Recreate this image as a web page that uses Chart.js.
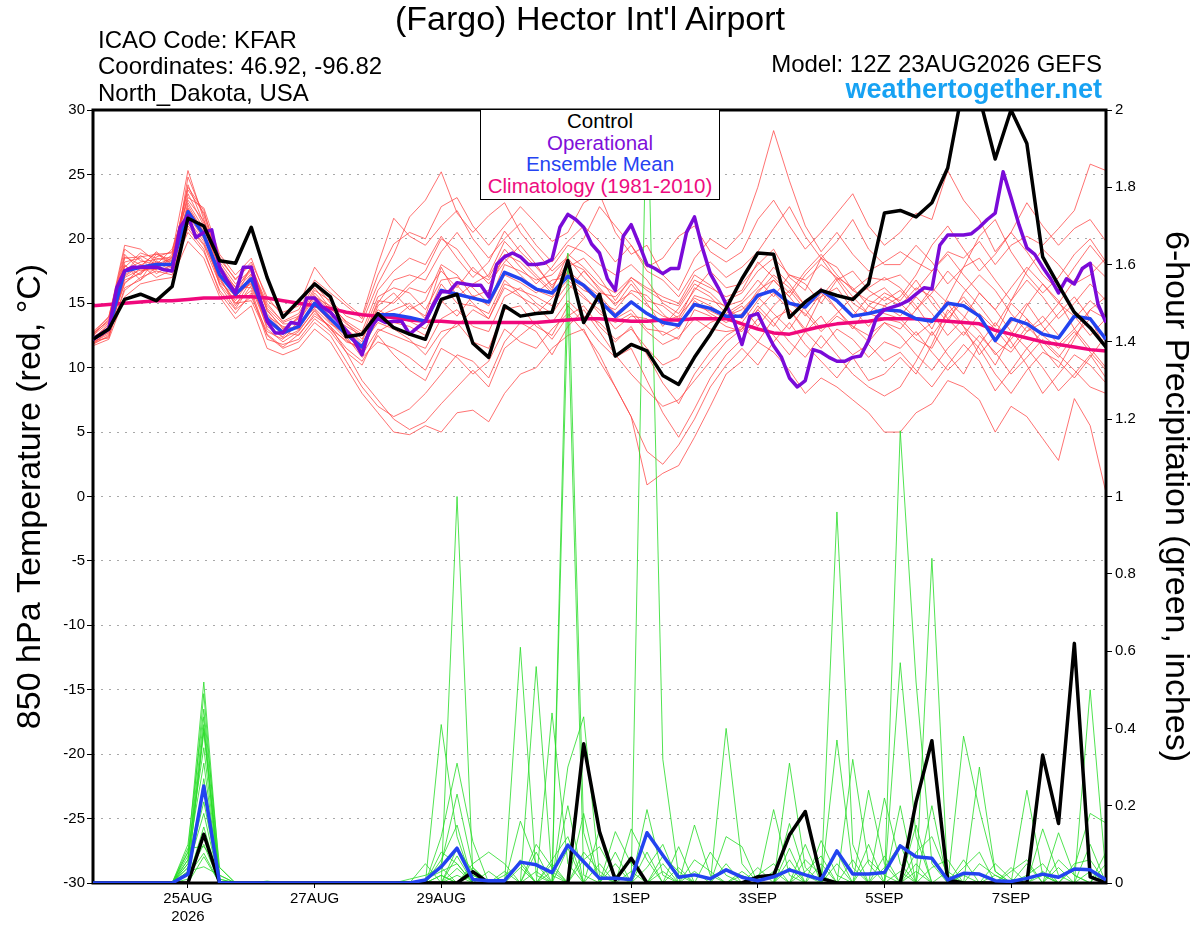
<!DOCTYPE html>
<html><head><meta charset="utf-8">
<script src="https://cdn.jsdelivr.net/npm/chart.js@4.4.1/dist/chart.umd.min.js"></script>
<style>
html,body{margin:0;padding:0;background:#fff;}
#wrap{position:relative;width:1200px;height:927px;overflow:hidden;font-family:'Liberation Sans',Arial,Helvetica,sans-serif;}
#c{position:absolute;left:0;top:0;}
.t{position:absolute;white-space:nowrap;color:#000;}
#legend{position:absolute;left:480px;top:109px;width:240px;height:91px;box-sizing:border-box;border:1.5px solid #000;background:#fff;text-align:center;font-size:20.5px;line-height:21.6px;}
</style></head><body>
<div id="wrap">
<canvas id="c" width="1200" height="927"></canvas>
<div class="t" style="left:0;width:1180px;text-align:center;top:0px;font-size:34px;line-height:36px;">(Fargo) Hector Int'l Airport</div>
<div class="t" style="left:98px;top:27px;font-size:24px;line-height:26px;">ICAO Code: KFAR</div>
<div class="t" style="left:98px;top:53px;font-size:24px;line-height:26px;">Coordinates: 46.92, -96.82</div>
<div class="t" style="left:98px;top:80px;font-size:24px;line-height:26px;">North_Dakota, USA</div>
<div class="t" style="right:98px;top:51px;font-size:24px;line-height:26px;">Model: 12Z 23AUG2026 GEFS</div>
<div class="t" style="right:98px;top:74px;font-size:27px;line-height:30px;font-weight:bold;color:#17a2f3;">weathertogether.net</div>
<div id="legend">
<div style="color:#000">Control</div>
<div style="color:#7f0fd9">Operational</div>
<div style="color:#2543f2">Ensemble Mean</div>
<div style="color:#ee0c80">Climatology (1981-2010)</div>
</div>
</div>
<script>
// ---- time axis (hours after 12Z 23AUG2026) ----
const hours6 = [0,6,12,18,24,30,36,42,48,54,60,66,72,78,84,90,96,102,108,114,120,126,132,138,144,150,156,162,168,174,180,186,192,198,204,210,216,222,228,234,240,246,252,258,264,270,276,282,288,294,300,306,312,318,324,330,336,342,348,354,360,366,372,378,384];
const hours3 = [0,3,6,9,12,15,18,21,24,27,30,33,36,39,42,45,
48,51,54,57,60,63,66,69,72,75,78,81,84,87,90,93,
96,99,102,105,108,111,114,117,120,123,126,129,132,135,138,141,
144,147,150,153,156,159,162,165,168,171,174,177,180,183,186,189,
192,195,198,201,204,207,210,213,216,219,222,225,228,231,234,237,
240,243,246,249,252,255,258,261,264,267,270,273,276,279,282,285,
288,291,294,297,300,303,306,309,312,315,318,321,324,327,330,333,
336,339,342,345,348,351,354,357,360,363,366,369,372,375,378,381,
384];
const tickHours = [36,84,132,204,252,300,348];
const tickLabels = [['25AUG','2026'],'27AUG','29AUG','1SEP','3SEP','5SEP','7SEP'];

// ---- main series ----
const controlTemp = [12.2,13.0,15.3,15.7,15.2, 16.3,21.6,21.0,18.3,18.1, 20.9,17.0,13.9,15.2,16.5, 15.5,12.4,12.6,14.2,13.1,
12.6,12.2,15.3,15.7,11.9, 10.8,14.8,14.0,14.2,14.3, 18.3,13.5,15.7,10.9,11.8, 11.3,9.4,8.7,10.8,12.6,
14.6,16.9,18.9,18.8,13.9, 15.1,16.0,15.6,15.3,16.5, 22.0,22.2,21.7,22.8,25.5, 32.0,31.0,26.2,30.0,27.4, 18.6,16.4,14.3,13.1,11.6];
const operationalTemp = [12.2,12.6,13.0,16.2,17.5,17.8,17.8,17.8,17.8,17.6,17.5,20.9,21.8,20.1,20.5,20.7,
17.8,16.7,15.8,17.8,17.8,15.5,13.6,12.7,12.7,13.5,13.4,15.4,15.4,14.7,14.3,13.6,
12.9,12.1,11.0,13.1,13.8,13.5,13.6,13.6,12.6,13.1,13.6,14.9,15.9,15.9,16.6,16.5,
16.4,16.4,15.5,18.0,18.6,18.9,18.6,18.0,18.0,18.1,18.4,20.9,21.9,21.5,20.9,19.6,
18.9,16.9,16.0,20.2,21.1,19.6,18.0,17.7,17.3,17.7,17.7,20.5,21.7,19.3,17.3,16.2,
14.9,13.6,11.8,14.0,14.2,12.9,11.7,10.8,9.2,8.5,9.0,11.4,11.2,10.8,10.5,10.5,
10.8,10.9,12.1,13.9,14.5,14.7,14.9,15.2,15.7,16.2,16.1,19.5,20.3,20.3,20.3,20.4,
20.9,21.5,22.0,25.2,23.2,21.1,19.3,18.8,17.8,16.9,15.8,16.9,16.5,17.7,18.1,14.9,
13.5];
const meanTemp = [12.2,13.0,17.5,17.8,18.0, 18.0,22.1,20.3,17.2,15.7, 16.9,13.8,12.7,13.2,15.0, 13.8,12.6,11.6,14.1,14.1,
13.9,13.6,16.0,15.7,15.4, 15.1,17.4,16.9,16.1,15.8, 17.1,16.4,15.2,14.0,15.1, 14.2,13.5,13.3,14.9,14.6,
14.0,14.0,15.6,16.0,15.0, 14.7,16.0,15.2,14.0,14.2, 14.5,14.4,13.8,13.6,15.0, 14.8,14.0,12.1,13.8,13.4, 12.6,12.3,14.0,13.8,12.2];
const climoTemp = [14.8,14.9,15.0,15.1,15.2, 15.2,15.3,15.4,15.4,15.5, 15.5,15.4,15.2,15.0,14.8, 14.6,14.3,14.1,14.0,13.9,
13.7,13.6,13.6,13.5,13.5, 13.5,13.5,13.5,13.5,13.6, 13.7,13.8,13.8,13.7,13.6, 13.6,13.7,13.7,13.8,13.8,
13.8,13.4,13.0,12.7,12.6, 12.9,13.2,13.4,13.5,13.6, 13.8,13.8,13.8,13.7,13.6, 13.5,13.4,12.9,12.6,12.3, 12.0,11.8,11.6,11.4,11.3];
const controlPrecip = [0,0,0,0,0, 0,0,0.126,0,0, 0,0,0,0,0, 0,0,0,0,0,
0,0,0,0,0.029, 0,0,0,0,0, 0,0.36,0.133,0.008,0.064, 0,0,0,0,0,
0,0,0.016,0.02,0.124, 0.185,0.012,0,0,0, 0,0,0.21,0.368,0.008, 0,0,0,0,0, 0.331,0.154,0.62,0.016,0];
const meanPrecip = [0,0,0,0,0, 0,0.023,0.251,0,0, 0,0,0,0,0, 0,0,0,0,0,
0,0.008,0.042,0.09,0.009, 0.006,0.006,0.054,0.047,0.027, 0.098,0.055,0.012,0.012,0.009, 0.13,0.072,0.015,0.021,0.011,
0.034,0.015,0.006,0.016,0.034, 0.021,0.009,0.083,0.023,0.023, 0.027,0.096,0.068,0.064,0.008, 0.025,0.023,0.006,0.004,0.012, 0.023,0.015,0.036,0.034,0.008];

// ---- ensemble members: 850 hPa temperature (°C) ----
const memberTemp01 = [12.0,13.2,18.5,18.6,18.8,18.9,25.3,21.5,18.0,16.2,17.5, 14.5,13.0,13.8,16.0,15.2,14.0,13.5,16.5,18.8,21.7, 23.0,25.2,22.0,20.5,21.8,22.8,20.5,19.0,17.5,18.6, 20.0,22.5,21.0,19.5,17.8,18.5,20.2,21.0,19.0,18.2, 19.0,21.5,23.0,21.0,19.2,20.5,22.0,23.5,21.0,19.5, 20.5,22.0,21.5,25.3,23.0,21.5,19.0,20.5,22.8,21.0,19.5,20.8,21.5,19.8];
const memberTemp02 = [12.5,13.8,19.2,18.3,18.0,18.5,23.8,22.0,18.6,16.8,18.2, 15.5,14.0,14.5,16.8,15.8,14.8,13.8,17.2,19.6,20.5, 20.0,22.5,23.2,21.0,19.5,21.0,22.5,21.2,19.8,20.5, 22.8,23.5,20.5,18.8,19.5,17.2,16.0,18.5,20.0,19.2, 20.5,24.0,28.4,24.5,21.0,19.0,20.5,18.8,17.5,18.2, 19.0,18.2,17.5,19.0,18.5,19.8,18.0,19.5,20.2,19.5,20.8,22.2,25.8,25.3];
const memberTemp03 = [11.8,12.5,16.0,17.0,17.5,17.2,21.0,19.5,16.5,15.0,16.0, 12.5,11.5,12.0,13.5,12.5,10.5,8.5,7.0,6.2,6.8, 8.0,9.5,11.0,10.5,9.2,12.0,13.5,12.8,11.0,13.2, 14.5,12.8,11.0,9.5,8.2,7.0,7.5,9.0,10.5,12.0, 13.0,14.8,13.5,12.0,10.8,12.5,11.0,9.5,8.5,7.8, 8.5,10.5,12.8,11.0,9.5,11.8,13.5,12.0,10.2,8.0,9.5,11.0,10.2,8.8];
const memberTemp04 = [12.3,13.0,17.8,18.9,18.5,18.2,22.8,20.8,17.8,15.5,17.2, 14.0,13.2,13.0,15.2,14.0,13.2,12.5,15.5,16.2,15.8, 14.5,16.8,17.0,16.2,15.0,18.0,17.5,16.8,17.2,18.5, 17.0,15.8,15.5,16.8,15.2,14.8,13.8,16.2,15.5,14.2, 15.0,16.2,17.8,16.5,14.8,15.5,17.0,16.2,14.8,15.8, 15.2,16.8,15.0,13.5,15.8,17.2,16.0,14.2,12.8,13.5,15.0,14.0,12.5,13.8];
const memberTemp05 = [12.6,14.0,18.8,17.5,17.8,18.4,24.2,21.2,17.0,14.8,16.8, 13.0,12.0,12.8,14.5,13.0,11.5,10.5,12.5,11.0,9.8, 9.0,11.5,10.8,9.5,10.5,13.0,12.0,11.5,13.0,14.2, 12.8,11.0,8.5,6.2,3.5,2.5,4.0,6.0,8.5,10.2, 11.5,10.2,12.0,13.5,11.8,10.5,9.2,10.8,9.0,9.5, 10.8,9.5,11.8,14.5,13.2,11.0,12.5,15.0,13.8,11.5,10.0,12.2,14.5,15.5];
const memberTemp06 = [11.9,12.8,16.8,17.3,18.2,17.8,20.5,19.0,16.0,14.5,15.5, 12.8,12.2,13.5,15.8,14.5,12.8,11.0,13.0,12.5,12.0, 11.5,13.8,14.5,13.2,12.8,15.5,16.2,15.0,14.2,16.0, 17.5,16.2,14.8,16.5,15.0,13.2,14.6,16.5,15.8,14.6, 13.8,15.5,14.2,13.0,14.8,16.2,14.5,13.2,12.5,13.5, 13.0,14.5,16.2,15.0,13.2,12.0,10.2,12.5,14.8,16.5,15.2,13.0,11.5,10.0];
const memberTemp07 = [12.2,13.4,17.2,18.0,17.0,17.6,22.3,20.6,17.5,16.0,17.8, 15.0,13.5,14.0,15.5,14.8,13.6,12.8,16.0,17.5,18.5, 18.0,20.2,18.5,17.0,18.2,20.6,19.0,17.8,16.4,17.8, 18.5,17.0,15.2,17.0,16.2,15.5,15.0,17.2,16.4,15.2, 15.8,17.5,18.5,17.2,16.8,18.0,17.0,15.5,16.2,17.0, 16.2,14.8,13.0,15.5,17.8,18.5,16.8,15.2,17.5,19.2,18.0,16.5,17.2,18.5];
const memberTemp08 = [12.7,13.6,18.0,16.8,18.6,19.0,23.2,22.4,18.8,17.2,18.5, 15.2,14.3,14.8,17.8,16.2,15.0,14.0,18.0,21.6,20.2, 19.5,21.0,22.2,20.0,18.5,20.0,21.2,19.5,18.2,19.8, 21.0,19.8,18.2,19.5,17.5,16.8,15.5,17.5,18.2,17.0, 17.8,19.0,20.8,22.5,20.2,18.5,19.8,21.5,19.2,18.0, 18.0,19.5,18.2,16.5,17.8,20.2,21.5,19.0,17.2,15.8,17.0,18.8,20.0,18.2];
const memberTemp09 = [11.7,12.2,15.5,16.5,16.8,17.0,19.8,18.5,15.5,13.8,14.8, 11.5,11.0,11.5,13.0,12.0,10.0,8.0,6.5,5.0,4.8, 5.5,5.0,6.5,6.7,5.8,8.0,9.5,10.0,11.5,12.5, 13.0,10.5,8.5,6.2,0.9,1.8,2.4,4.6,7.0,9.5, 10.5,12.0,11.2,9.8,8.0,9.2,8.5,7.5,6.5,5.0, 5.0,6.5,7.2,9.0,8.5,7.5,5.0,7.0,6.2,4.5,2.8,7.6,5.5,0.3];
const memberTemp10 = [12.4,13.1,17.6,18.2,18.4,18.6,22.0,20.2,17.2,15.8,16.5, 13.6,12.6,13.2,15.0,13.5,12.2,11.2,14.0,14.5,15.0, 13.8,16.5,15.0,14.8,14.2,16.8,15.6,14.2,15.4,16.8, 15.6,14.2,13.5,14.2,12.8,11.8,12.4,13.8,13.0,12.8, 13.0,14.5,13.2,15.0,14.2,12.8,14.0,13.2,12.0,13.5, 12.5,11.0,9.8,11.5,12.8,11.5,9.5,8.0,9.8,11.2,10.5,9.2,10.8,12.5];
const memberTemp11 = [12.1,12.9,16.5,17.8,19.0,18.0,21.5,19.8,16.8,15.2,17.0, 14.2,12.8,12.5,14.2,13.2,12.0,11.6,14.8,15.8,14.5, 15.2,18.0,17.2,15.5,16.0,18.8,18.2,17.0,15.8,17.4, 16.2,15.0,14.5,16.0,15.6,14.2,13.0,15.2,14.2,13.5, 14.2,16.0,16.8,15.5,17.2,18.5,16.8,15.0,14.2,15.5, 14.8,16.2,15.5,13.8,12.5,14.2,13.0,11.5,13.2,12.0,10.8,12.5,13.8,12.2];
const memberTemp12 = [12.8,13.9,19.5,19.2,18.2,17.5,24.8,21.8,18.2,16.5,17.6, 14.8,13.6,14.2,16.5,15.0,13.5,12.2,15.0,16.8,17.2, 16.8,19.0,20.5,18.8,17.0,19.2,17.8,16.5,17.8,19.5, 19.0,18.0,17.2,18.0,16.8,15.0,14.2,16.0,17.5,16.2, 16.5,18.0,19.2,17.0,16.0,18.5,17.8,16.0,15.2,14.8, 15.5,17.2,19.5,21.0,19.2,17.5,18.8,20.5,19.0,17.2,16.0,17.8,19.5,18.0];
const memberTemp13 = [12.0,12.6,17.0,17.6,17.6,18.8,21.8,20.0,17.4,16.3,16.2, 13.2,12.4,13.6,15.4,14.2,13.0,11.8,13.5,13.0,12.2, 11.0,12.8,13.2,14.5,13.8,16.2,15.5,14.8,13.5,15.2, 14.0,13.5,12.2,13.0,11.5,10.2,10.8,12.5,13.5,14.0, 14.8,13.2,14.8,16.0,14.5,13.0,14.2,15.5,14.2,13.8, 13.5,12.2,11.5,13.8,15.2,14.0,12.2,13.5,15.0,13.2,11.8,13.0,14.5,13.8];
const memberTemp14 = [12.3,13.3,18.2,18.5,17.3,18.0,23.5,21.0,17.6,15.4,17.9, 14.4,13.1,13.0,14.8,13.6,12.4,10.8,12.0,11.5,10.8, 9.8,12.2,13.5,12.0,11.5,14.5,14.8,13.2,12.5,14.8, 13.5,12.0,10.8,11.5,9.0,6.5,4.6,6.8,9.2,11.0, 12.2,13.8,12.5,11.0,12.8,14.0,12.2,11.0,11.8,10.5, 11.2,9.8,8.5,10.2,11.8,10.5,8.2,9.8,11.5,10.0,8.2,9.5,11.0,9.2];
const memberTemp15 = [11.9,12.4,16.2,16.8,17.8,17.4,20.8,19.2,15.8,14.2,15.8, 12.2,11.8,12.2,13.8,12.8,11.2,10.2,12.8,13.5,13.2, 12.5,15.2,14.0,15.6,14.8,17.2,16.6,15.8,16.8,17.0, 16.0,15.5,13.8,14.5,13.0,12.8,12.2,14.5,14.0,13.2, 12.8,14.5,15.8,14.5,13.0,15.5,16.2,14.5,13.2,14.8, 14.0,15.5,14.2,12.5,13.8,15.8,14.5,12.8,11.5,12.8,14.2,15.5,13.8,11.5];
const memberTemp16 = [12.5,13.5,17.9,17.2,18.8,18.3,22.6,20.5,16.6,15.6,16.6, 13.8,12.9,13.9,15.6,14.4,13.0,12.0,15.2,15.0,16.2, 15.8,17.5,16.2,17.8,16.5,18.2,19.5,18.0,16.2,18.2, 17.6,16.0,15.0,15.8,14.8,14.0,13.6,15.6,15.2,14.8, 15.2,16.8,15.5,17.2,16.5,15.0,16.8,17.5,16.0,15.2, 16.0,14.5,15.8,17.5,16.2,14.8,13.2,15.2,16.8,15.5,13.8,15.0,16.5,15.2];
const memberTemp17 = [12.2,12.7,17.4,18.7,18.0,19.2,23.0,21.4,18.4,16.9,18.0, 14.6,13.4,13.4,14.6,13.4,12.6,11.4,13.8,14.0,13.6, 13.0,15.0,16.4,15.0,13.8,16.5,16.0,15.5,14.8,16.5, 15.4,14.5,13.0,14.0,13.8,12.5,13.2,14.8,14.4,13.8, 13.5,15.2,16.8,15.5,14.0,15.8,14.5,13.0,14.8,14.2, 13.8,12.5,13.5,15.2,14.0,12.8,11.0,12.2,13.8,12.5,11.5,12.8,11.2,9.8];
const memberTemp18 = [11.8,13.0,16.6,17.4,18.3,17.7,21.2,19.6,17.0,15.0,15.2, 12.6,11.6,12.6,14.0,13.2,11.2,9.0,7.5,6.0,5.2, 5.8,7.2,8.5,9.8,8.5,11.5,12.5,13.5,12.2,14.0, 14.8,13.2,12.0,13.2,11.0,8.8,7.2,9.5,11.2,12.5, 13.2,12.0,13.8,14.5,12.8,11.5,13.0,12.2,10.8,12.0, 11.5,12.8,11.2,9.8,11.0,12.5,11.2,9.5,10.8,12.2,11.0,9.8,8.5,8.0];
const memberTemp19 = [12.6,13.7,18.6,18.0,17.6,18.6,24.0,22.2,17.9,16.0,17.3, 13.8,12.8,14.0,16.2,14.6,13.4,12.6,14.5,13.8,14.8, 14.0,17.8,15.5,16.5,17.2,19.8,18.5,17.2,16.0,18.8, 17.8,16.5,15.8,17.0,16.0,15.2,14.8,16.8,16.2,15.5, 16.0,18.2,17.0,15.8,17.5,18.8,17.2,16.0,17.0,16.8, 17.2,16.0,17.5,18.8,17.2,15.8,14.5,16.2,17.8,16.5,15.0,16.8,18.2,17.0];
const memberTemp20 = [12.1,12.3,17.1,17.9,18.9,17.9,22.4,20.4,16.4,14.6,16.4, 13.4,12.3,12.9,14.4,13.0,12.1,11.4,14.2,15.2,16.5, 17.5,20.0,19.2,17.5,16.8,18.5,17.2,16.0,15.5,17.5, 16.5,15.6,14.2,15.2,14.2,13.6,14.0,15.4,14.8,14.0, 14.5,15.8,17.2,16.2,14.8,16.0,15.2,14.0,15.5,16.2, 15.0,13.8,12.5,14.2,15.5,14.0,12.0,11.2,12.8,14.0,12.5,13.8,15.2,14.0];

// ---- ensemble members: 6-hour precipitation (inches) ----
const memberPrecip01 = [0,0,0,0,0, 0,0.08,0.52,0.02,0, 0,0,0,0,0, 0,0,0,0,0, 0,0,0.41,0.12,0, 0,0,0,0,0, 1.63,0.13,0,0,0, 0,0.05,0,0,0, 0.40,0.05,0,0,0, 0,0,0.96,0.1,0, 0,0,0,0,0, 0.02,0,0,0,0, 0,0,0,0.5,0.02];
const memberPrecip02 = [0,0,0,0,0, 0,0.05,0.49,0,0, 0,0,0,0,0, 0,0,0,0,0, 0,0.05,0,1.0,0.02, 0,0,0,0.08,0, 0,0,0,0,0, 2.1,0.32,0.02,0,0, 0,0,0,0,0.31, 0.04,0,0,0,0, 0,1.17,0.52,0.05,0, 0,0,0,0,0, 0.14,0.02,0,0,0];
const memberPrecip03 = [0,0,0,0,0, 0,0.1,0.45,0.04,0, 0,0,0,0,0, 0,0,0,0,0, 0,0,0.12,0.31,0.107, 0,0,0.61,0.02,0, 0,0,0,0.133,0.05, 0,0,0,0,0, 0,0,0,0.19,0.02, 0,0,0,0,0, 0.22,0.05,0,0,0, 0,0.30,0.03,0,0, 0,0,0.04,0.18,0.155];
const memberPrecip04 = [0,0,0,0,0, 0,0.02,0.41,0,0, 0,0,0,0,0, 0,0,0,0,0, 0,0,0.05,0.23,0.04, 0,0,0,0.56,0.02, 0,0,0.137,0,0, 0,0,0,0.15,0.02, 0,0,0,0,0, 0,0,0.37,0.04,0, 0,0,0,0.84,0.01, 0,0,0,0,0.24, 0.02,0,0,0,0];
const memberPrecip05 = [0,0,0,0,0, 0,0.06,0.40,0,0, 0,0.005,0,0,0, 0,0,0,0,0, 0.01,0.02,0.04,0,0, 0,0,0,0,0.44, 0.05,0,0,0,0, 0.19,0.02,0,0,0, 0,0,0,0,0, 0,0,0,0.32,0.05, 0,0,0.05,0,0, 0.38,0.19,0.03,0,0, 0,0,0,0,0];
const memberPrecip06 = [0,0,0,0,0, 0,0.03,0.39,0,0, 0,0,0,0,0, 0,0,0,0,0, 0,0,0,0.038,0, 0,0,0.16,0.05,0, 0.30,0.43,0.02,0,0, 0,0,0.094,0,0, 0,0,0,0,0.154, 0.02,0,0,0,0, 0,0.57,0.12,0,0, 0,0,0,0,0, 0,0.13,0.02,0,0];
const memberPrecip07 = [0,0,0,0,0, 0,0.07,0.31,0,0, 0,0,0,0,0, 0,0,0,0,0, 0,0,0,0,0.05, 0.08,0.05,0,0,0, 1.5,0.02,0,0,0, 0,0,0,0,0, 0.12,0.094,0,0,0, 0,0.11,0.02,0,0.24, 0.05,0,0,0,0, 0,0,0.05,0.01,0, 0,0,0,0,0.05];
const memberPrecip08 = [0,0,0,0,0, 0,0,0.27,0.01,0, 0,0,0,0,0, 0,0,0,0,0, 0,0,0.02,0,0, 0,0.02,0.05,0,0, 0,0.06,0.094,0.02,0, 0,0,0,0,0, 0,0,0.02,0.05,0, 0,0,0,0,0, 0,0,0.08,0.12,0.02, 0,0,0,0,0, 0,0,0,0,0];
const memberPrecip09 = [0,0,0,0,0, 0,0.04,0.21,0,0, 0,0,0,0,0, 0,0,0,0,0, 0,0,0,0.09,0.03, 0,0,0,0,0, 0,0,0,0,0.14, 0.06,0,0,0,0, 0,0,0,0,0, 0.06,0.02,0,0,0, 0.04,0.1,0,0,0, 0,0,0,0,0.02, 0.05,0,0,0,0];
const memberPrecip10 = [0,0,0,0,0, 0,0.01,0.145,0,0, 0,0,0,0,0, 0,0,0,0,0, 0,0.01,0.03,0.05,0, 0,0,0,0,0.06, 0.12,0,0,0,0, 0,0.07,0.03,0,0, 0,0,0,0,0.09, 0,0,0.05,0,0, 0,0,0,0,0, 0.04,0.08,0,0,0, 0,0,0,0.03,0];
const memberPrecip11 = [0,0,0,0,0, 0,0,0.13,0,0, 0,0,0,0,0, 0,0,0,0,0, 0,0,0,0,0, 0.03,0,0,0.1,0.04, 0,0,0,0.05,0, 0,0,0,0.06,0.03, 0,0,0,0,0, 0,0,0,0,0.06, 0.02,0,0,0,0, 0,0,0.02,0,0, 0,0,0.05,0.06,0];
const memberPrecip12 = [0,0,0,0,0, 0,0.09,0.094,0.04,0, 0,0,0,0,0, 0,0,0,0,0, 0,0,0.06,0.15,0, 0,0,0,0,0, 0,0.08,0.03,0,0, 0,0,0,0,0, 0.05,0,0,0,0, 0.03,0.07,0,0,0, 0,0,0,0.04,0.06, 0,0,0,0,0, 0,0.04,0,0,0];
const memberPrecip13 = [0,0,0,0,0, 0,0.02,0.077,0,0, 0,0,0,0,0, 0,0,0,0,0, 0,0,0,0,0.02, 0,0,0.04,0,0, 0.09,0,0,0,0, 0.04,0.1,0,0,0, 0,0,0.04,0,0, 0,0,0,0.06,0, 0,0.03,0,0,0, 0,0,0,0.03,0.06, 0,0,0,0,0];
const memberPrecip14 = [0,0,0,0,0, 0,0,0.068,0,0, 0,0,0,0,0, 0,0,0,0,0, 0,0,0,0.02,0, 0,0,0,0,0.05, 0,0,0,0,0.03, 0,0,0,0,0.08, 0.02,0,0,0,0, 0,0,0.08,0,0, 0,0,0.03,0,0, 0,0,0,0,0, 0.02,0,0,0,0.08];
const memberPrecip15 = [0,0,0,0,0, 0,0.03,0.042,0.02,0, 0,0,0,0,0, 0,0,0,0,0, 0,0,0,0,0, 0,0.03,0,0,0, 0,0,0.05,0,0, 0,0,0.04,0,0, 0,0,0,0.03,0, 0,0,0,0,0, 0.07,0,0,0,0, 0,0.05,0.02,0,0, 0,0,0,0,0];
const memberPrecip16 = [0,0,0,0,0, 0,0.05,0.25,0,0, 0,0,0,0,0, 0,0,0,0,0, 0,0,0.08,0.05,0, 0,0,0,0,0, 0,0.18,0,0,0, 0,0,0,0,0, 0,0.03,0,0,0.06, 0,0,0,0,0, 0,0,0.15,0,0, 0,0,0,0.04,0, 0,0,0,0,0];
const memberPrecip17 = [0,0,0,0,0, 0,0.04,0.18,0,0, 0,0,0,0,0, 0,0,0,0,0, 0,0,0,0,0.04, 0,0,0,0.03,0, 0,0,0,0.08,0, 0,0,0,0,0, 0,0,0,0,0, 0,0.05,0,0,0, 0,0,0,0,0.03, 0,0,0,0,0, 0,0.06,0.02,0,0];
const memberPrecip18 = [0,0,0,0,0, 0,0.08,0.35,0,0, 0,0,0,0,0, 0,0,0,0,0, 0,0,0.02,0,0, 0,0,0,0,0, 0.2,0,0,0,0, 0.08,0,0,0,0, 0,0.02,0,0,0, 0,0,0,0,0.1, 0,0,0,0,0, 0.06,0,0,0,0, 0,0,0,0.1,0];
const memberPrecip19 = [0,0,0,0,0, 0,0.02,0.10,0,0, 0,0,0,0,0, 0,0,0,0,0, 0,0,0,0,0, 0,0,0.06,0,0, 0,0,0,0,0, 0,0.03,0,0,0, 0,0,0,0,0.04, 0,0,0,0,0, 0,0.2,0,0,0, 0,0,0,0,0, 0.03,0,0,0,0];
const memberPrecip20 = [0,0,0,0,0, 0,0.06,0.43,0.01,0, 0,0,0,0,0, 0,0,0,0,0, 0,0,0,0.07,0, 0,0,0,0,0.03, 0,0,0,0,0, 0,0,0,0.03,0, 0,0,0,0,0, 0.1,0,0,0,0, 0,0,0,0.2,0, 0,0,0,0,0.05, 0,0,0,0,0];

const memberTemps = [memberTemp01,memberTemp02,memberTemp03,memberTemp04,memberTemp05,memberTemp06,memberTemp07,memberTemp08,memberTemp09,memberTemp10,
  memberTemp11,memberTemp12,memberTemp13,memberTemp14,memberTemp15,memberTemp16,memberTemp17,memberTemp18,memberTemp19,memberTemp20];
const memberPrecips = [memberPrecip01,memberPrecip02,memberPrecip03,memberPrecip04,memberPrecip05,memberPrecip06,memberPrecip07,memberPrecip08,memberPrecip09,memberPrecip10,
  memberPrecip11,memberPrecip12,memberPrecip13,memberPrecip14,memberPrecip15,memberPrecip16,memberPrecip17,memberPrecip18,memberPrecip19,memberPrecip20];

// ---- styles ----
const RED = 'rgba(255,70,70,0.85)';
const GREEN = 'rgba(40,220,40,0.9)';
const PINK = '#f0087c';
const BLUE = '#2343f0';
const PURPLE = '#7a0ad8';
const BLACK = '#000000';

function pts(xs, ys) { return ys.map((v, i) => ({x: xs[i], y: v})); }

const datasets = [];
memberTemps.forEach((arr, k) => datasets.push({label: 'Member ' + (k + 1) + ' temperature', data: pts(hours6, arr), yAxisID: 'yT', borderColor: RED, borderWidth: 0.9, order: 100}));
memberPrecips.forEach((arr, k) => datasets.push({label: 'Member ' + (k + 1) + ' precipitation', data: pts(hours6, arr), yAxisID: 'yP', borderColor: GREEN, borderWidth: 0.9, order: 90}));
datasets.push({label: 'Climatology (1981-2010)', data: pts(hours6, climoTemp), yAxisID: 'yT', borderColor: PINK, borderWidth: 3.5, order: 50});
datasets.push({label: 'Control precipitation', data: pts(hours6, controlPrecip), yAxisID: 'yP', borderColor: BLACK, borderWidth: 3.5, order: 45});
datasets.push({label: 'Ensemble Mean precipitation', data: pts(hours6, meanPrecip), yAxisID: 'yP', borderColor: BLUE, borderWidth: 3.5, order: 40});
datasets.push({label: 'Ensemble Mean', data: pts(hours6, meanTemp), yAxisID: 'yT', borderColor: BLUE, borderWidth: 3.5, order: 30});
datasets.push({label: 'Operational', data: pts(hours3, operationalTemp), yAxisID: 'yT', borderColor: PURPLE, borderWidth: 3.5, order: 20});
datasets.push({label: 'Control', data: pts(hours6, controlTemp), yAxisID: 'yT', borderColor: BLACK, borderWidth: 3.5, order: 10});

const framePlugin = {
  id: 'frame',
  afterDatasetDraw(chart, args) {
    if (chart.data.datasets[args.index].label !== 'Climatology (1981-2010)') return;
    const a = chart.chartArea, c = chart.ctx;
    c.save(); c.strokeStyle = '#000'; c.lineWidth = 3;
    c.strokeRect(a.left, a.top, a.right - a.left, a.bottom - a.top);
    c.restore();
  }
};

Chart.defaults.font.family = "'Liberation Sans', Arial, Helvetica, sans-serif";
Chart.defaults.color = '#000';

new Chart(document.getElementById('c'), {
  type: 'line',
  data: {datasets},
  options: {
    responsive: false, animation: false, devicePixelRatio: 1,
    layout: {padding: {top: 110, left: 0, right: 0, bottom: 0}},
    plugins: {legend: {display: false}, tooltip: {enabled: false}, title: {display: false}},
    elements: {point: {radius: 0}, line: {tension: 0, borderJoinStyle: 'round', fill: false}},
    scales: {
      x: {
        type: 'linear', position: 'bottom', min: 0, max: 384,
        afterBuildTicks: (s) => { s.ticks = tickHours.map(v => ({value: v})); },
        afterFit: (s) => { s.height = 44; },
        ticks: {autoSkip: false, maxRotation: 0, minRotation: 0, padding: 2, color: '#000', font: {size: 15},
          callback: (v) => { const k = tickHours.indexOf(v); return k >= 0 ? tickLabels[k] : ''; }},
        grid: {display: true, drawOnChartArea: false, drawTicks: true, tickLength: 5, tickColor: '#000', tickWidth: 1},
        border: {display: false}
      },
      yT: {
        type: 'linear', position: 'left', min: -30, max: 30,
        afterFit: (s) => { s.width = 93; },
        ticks: {stepSize: 5, color: '#000', font: {size: 15}, padding: 2},
        grid: {color: '#a8a8a8', lineWidth: 1, drawTicks: true, tickLength: 6, tickColor: '#000', tickWidth: 1, tickBorderDash: []},
        border: {display: false, dash: [2, 6]},
        title: {display: true, text: '850 hPa Temperature (red, °C)', color: '#000', font: {size: 34}, padding: {top: 10, bottom: 0}}
      },
      yP: {
        type: 'linear', position: 'right', min: 0, max: 2,
        afterFit: (s) => { s.width = 94; },
        ticks: {stepSize: 0.2, color: '#000', font: {size: 15}, padding: 3, callback: (v) => String(Math.round(v * 10) / 10)},
        grid: {drawOnChartArea: false, drawTicks: true, tickLength: 6, tickColor: '#000', tickWidth: 1},
        border: {display: false},
        title: {display: true, text: '6-hour Precipitation (green, inches)', color: '#000', font: {size: 34}, padding: {top: 4, bottom: 0}}
      }
    }
  },
  plugins: [framePlugin]
});
</script>
</body></html>
